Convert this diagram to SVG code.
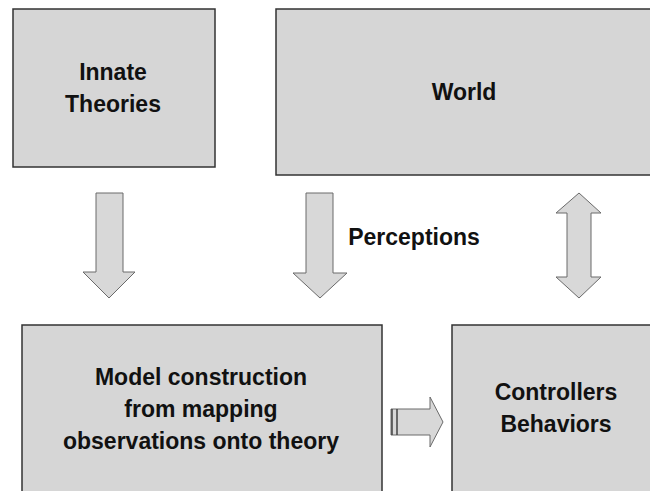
<svg xmlns="http://www.w3.org/2000/svg" width="650" height="491" viewBox="0 0 650 491">
<style>
.box{fill:#d6d6d6;stroke:#333;stroke-width:1.5}
.arr{fill:#d8d8d8;stroke:#6a6a6a;stroke-width:1}
.t{font-family:"Liberation Sans",Arial,sans-serif;font-weight:bold;font-size:23px;fill:#111;text-anchor:middle}
</style>
<rect width="650" height="491" fill="#fff"/>
<g id="innate">
<rect class="box" x="13" y="9" width="202" height="158"/>
<text class="t" x="113" y="80">Innate</text>
<text class="t" x="113" y="112">Theories</text>
</g>
<g id="world">
<rect class="box" x="276" y="9" width="376" height="166"/>
<text class="t" x="464" y="100">World</text>
</g>
<g id="model">
<rect class="box" x="22" y="325" width="360" height="170"/>
<text class="t" x="201" y="385">Model construction</text>
<text class="t" x="201" y="417">from mapping</text>
<text class="t" x="201" y="449">observations onto theory</text>
</g>
<g id="controllers">
<rect class="box" x="452" y="325" width="200" height="170"/>
<text class="t" x="556" y="400">Controllers</text>
<text class="t" x="556" y="432">Behaviors</text>
</g>
<g id="connectors">
<path class="arr" d="M96,193 H123 V272 H135 L109,298 L83,272 H96 Z"/>
<path class="arr" d="M306,193 H333 V273 H347 L320,298 L293,273 H306 Z"/>
<path class="arr" d="M579,193 L601,213 H591 V277 H601 L579,298 L556,277 H567 V213 H556 Z"/>
<path class="arr" d="M391,409 H430 V397 L443,422 L430,447 V435 H391 Z"/>
<line x1="392" y1="409" x2="392" y2="435" stroke="#444" stroke-width="1.5"/>
<line x1="397" y1="409" x2="397" y2="435" stroke="#444" stroke-width="1.5"/>
<text class="t" x="414" y="245">Perceptions</text>
</g>
</svg>
